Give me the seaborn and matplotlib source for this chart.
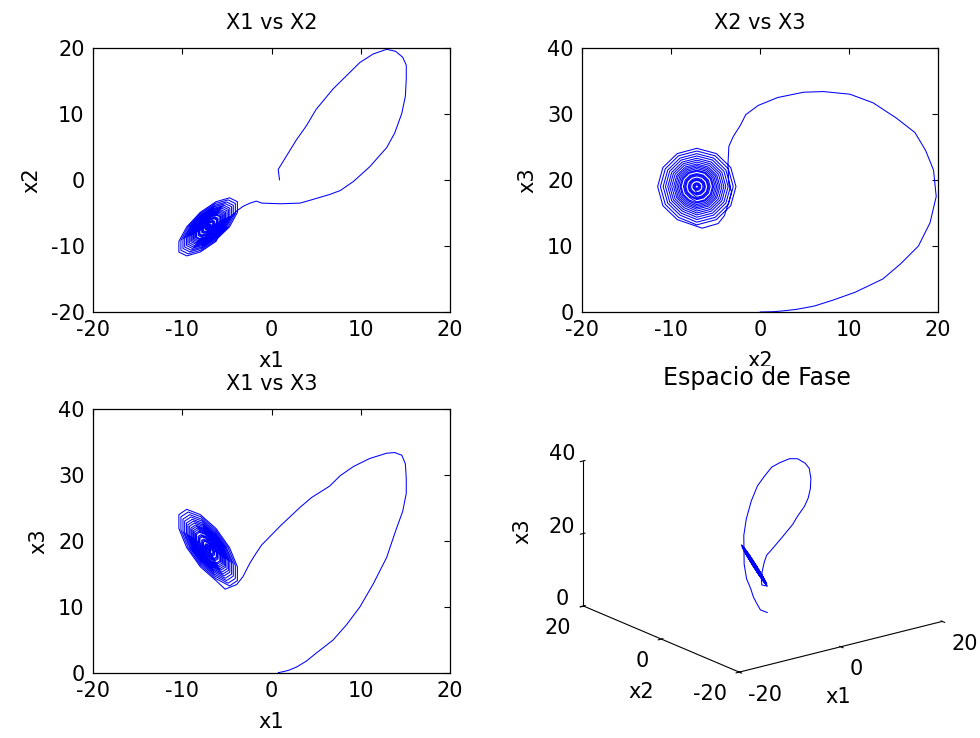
import numpy as np
import pandas as pd
import matplotlib
matplotlib.use("Agg")
import matplotlib.pyplot as plt
import seaborn as sns

# ---------------- data ----------------
# transient part of the trajectory
x1_transient = [0.9, 0.75, 1.3, 1.9, 2.8, 3.9, 5.0, 6.9, 8.4, 9.9, 11.4, 12.9, 13.9, 14.7, 15.1, 15.1,
                15.0, 14.6, 13.8, 12.9, 11.0, 9.2, 7.7, 6.5, 4.5, 3.2, 1.0, -1.1, -1.7, -2.4, -3.2, -3.9, -5.2]
x2_transient = [0.0, 1.6, 2.8, 4.1, 6.1, 8.2, 10.7, 13.8, 15.8, 17.8, 19.1, 19.8, 19.5, 18.6, 17.4, 15.3,
                12.7, 10.1, 7.1, 4.9, 2.0, -0.2, -1.6, -2.2, -3.0, -3.5, -3.6, -3.5, -3.2, -3.5, -4.0, -4.7, -6.5]
x3_transient = [0.0, 0.05, 0.2, 0.4, 0.9, 1.8, 3.0, 5.0, 7.3, 10.0, 13.5, 17.5, 21.5, 24.5, 27.2, 29.4,
                31.7, 33.0, 33.4, 33.3, 32.5, 31.3, 29.9, 28.3, 26.6, 25.1, 22.3, 19.4, 18.2, 16.7, 14.6, 13.4, 12.7]

# spiral around the equilibrium (-7.1, -7.1, 19), one row per loop
x1_spiral = [
    -6.22, -7.98, -9.5, -10.38, -10.38, -9.5, -7.98, -6.22, -4.7, -3.82, -3.82, -4.7,
    -6.28, -7.92, -9.33, -10.15, -10.15, -9.33, -7.92, -6.28, -4.87, -4.05, -4.05, -4.87,
    -6.34, -7.86, -9.16, -9.92, -9.92, -9.16, -7.86, -6.34, -5.04, -4.28, -4.28, -5.04,
    -6.4, -7.8, -9.02, -9.73, -9.73, -9.02, -7.8, -6.4, -5.18, -4.47, -4.47, -5.18,
    -6.45, -7.75, -8.88, -9.53, -9.53, -8.88, -7.75, -6.45, -5.32, -4.67, -4.67, -5.32,
    -6.49, -7.71, -8.76, -9.37, -9.37, -8.76, -7.71, -6.49, -5.44, -4.83, -4.83, -5.44,
    -6.54, -7.66, -8.64, -9.21, -9.21, -8.64, -7.66, -6.54, -5.56, -4.99, -4.99, -5.56,
    -6.58, -7.62, -8.52, -9.04, -9.04, -8.52, -7.62, -6.58, -5.68, -5.16, -5.16, -5.68,
    -6.62, -7.58, -8.42, -8.91, -8.91, -8.42, -7.58, -6.62, -5.78, -5.29, -5.29, -5.78,
    -6.65, -7.55, -8.32, -8.77, -8.77, -8.32, -7.55, -6.65, -5.88, -5.43, -5.43, -5.88,
    -6.69, -7.51, -8.23, -8.65, -8.65, -8.23, -7.51, -6.69, -5.97, -5.55, -5.55, -5.97,
    -6.72, -7.48, -8.13, -8.51, -8.51, -8.13, -7.48, -6.72, -6.07, -5.69, -5.69, -6.07,
    -6.75, -7.45, -8.06, -8.41, -8.41, -8.06, -7.45, -6.75, -6.14, -5.79, -5.79, -6.14,
    -6.8, -7.4, -7.92, -8.22, -8.22, -7.92, -7.4, -6.8, -6.28, -5.98, -5.98, -6.28,
    -6.83, -7.37, -7.84, -8.11, -8.11, -7.84, -7.37, -6.83, -6.36, -6.09, -6.09, -6.36,
    -6.85, -7.35, -7.77, -8.02, -8.02, -7.77, -7.35, -6.85, -6.43, -6.18, -6.18, -6.43,
    -6.91, -7.29, -7.63, -7.82, -7.82, -7.63, -7.29, -6.91, -6.57, -6.38, -6.38, -6.57,
    -6.93, -7.27, -7.56, -7.73, -7.73, -7.56, -7.27, -6.93, -6.64, -6.47, -6.47, -6.64,
    -6.96, -7.24, -7.48, -7.62, -7.62, -7.48, -7.24, -6.96, -6.72, -6.58, -6.58, -6.72,
    -7.01, -7.19, -7.34, -7.43, -7.43, -7.34, -7.19, -7.01, -6.86, -6.77, -6.77, -6.86,
    -7.04, -7.16, -7.27, -7.33, -7.33, -7.27, -7.16, -7.04, -6.93, -6.87, -6.87, -6.93,
    -7.06, -7.14, -7.2, -7.24, -7.24, -7.2, -7.14, -7.06, -7.0, -6.96, -6.96, -7.0,
]
x2_spiral = [
    -9.3, -10.91, -11.5, -10.91, -9.3, -7.1, -4.9, -3.29, -2.7, -3.29, -4.9, -7.1,
    -9.15, -10.64, -11.19, -10.64, -9.15, -7.1, -5.05, -3.56, -3.01, -3.56, -5.05, -7.1,
    -8.99, -10.37, -10.88, -10.37, -8.99, -7.1, -5.21, -3.83, -3.32, -3.83, -5.21, -7.1,
    -8.86, -10.15, -10.62, -10.15, -8.86, -7.1, -5.34, -4.05, -3.58, -4.05, -5.34, -7.1,
    -8.73, -9.92, -10.36, -9.92, -8.73, -7.1, -5.47, -4.28, -3.84, -4.28, -5.47, -7.1,
    -8.62, -9.73, -10.14, -9.73, -8.62, -7.1, -5.58, -4.47, -4.06, -4.47, -5.58, -7.1,
    -8.51, -9.54, -9.92, -9.54, -8.51, -7.1, -5.69, -4.66, -4.28, -4.66, -5.69, -7.1,
    -8.4, -9.35, -9.7, -9.35, -8.4, -7.1, -5.8, -4.85, -4.5, -4.85, -5.8, -7.1,
    -8.31, -9.2, -9.52, -9.2, -8.31, -7.1, -5.89, -5.0, -4.68, -5.0, -5.89, -7.1,
    -8.22, -9.04, -9.34, -9.04, -8.22, -7.1, -5.98, -5.16, -4.86, -5.16, -5.98, -7.1,
    -8.13, -8.89, -9.17, -8.89, -8.13, -7.1, -6.07, -5.31, -5.03, -5.31, -6.07, -7.1,
    -8.05, -8.74, -8.99, -8.74, -8.05, -7.1, -6.15, -5.46, -5.21, -5.46, -6.15, -7.1,
    -7.98, -8.62, -8.86, -8.62, -7.98, -7.1, -6.22, -5.58, -5.34, -5.58, -6.22, -7.1,
    -7.85, -8.4, -8.6, -8.4, -7.85, -7.1, -6.35, -5.8, -5.6, -5.8, -6.35, -7.1,
    -7.78, -8.28, -8.46, -8.28, -7.78, -7.1, -6.42, -5.92, -5.74, -5.92, -6.42, -7.1,
    -7.72, -8.17, -8.33, -8.17, -7.72, -7.1, -6.48, -6.03, -5.87, -6.03, -6.48, -7.1,
    -7.58, -7.94, -8.07, -7.94, -7.58, -7.1, -6.62, -6.26, -6.13, -6.26, -6.62, -7.1,
    -7.52, -7.83, -7.94, -7.83, -7.52, -7.1, -6.68, -6.37, -6.26, -6.37, -6.68, -7.1,
    -7.45, -7.71, -7.8, -7.71, -7.45, -7.1, -6.75, -6.49, -6.4, -6.49, -6.75, -7.1,
    -7.32, -7.48, -7.54, -7.48, -7.32, -7.1, -6.88, -6.72, -6.66, -6.72, -6.88, -7.1,
    -7.25, -7.37, -7.41, -7.37, -7.25, -7.1, -6.95, -6.83, -6.79, -6.83, -6.95, -7.1,
    -7.19, -7.26, -7.28, -7.26, -7.19, -7.1, -7.01, -6.94, -6.92, -6.94, -7.01, -7.1,
]
x3_spiral = [
    14.0, 16.1, 19.0, 21.9, 24.0, 24.8, 24.0, 21.9, 19.0, 16.1, 14.0, 13.2,
    14.33, 16.3, 19.0, 21.7, 23.67, 24.39, 23.67, 21.7, 19.0, 16.3, 14.33, 13.61,
    14.68, 16.5, 19.0, 21.5, 23.32, 23.99, 23.32, 21.5, 19.0, 16.5, 14.68, 14.01,
    14.98, 16.68, 19.0, 21.32, 23.02, 23.64, 23.02, 21.32, 19.0, 16.68, 14.98, 14.36,
    15.28, 16.85, 19.0, 21.15, 22.72, 23.29, 22.72, 21.15, 19.0, 16.85, 15.28, 14.71,
    15.54, 17.0, 19.0, 21.0, 22.46, 23.0, 22.46, 21.0, 19.0, 17.0, 15.54, 15.0,
    15.79, 17.14, 19.0, 20.86, 22.21, 22.71, 22.21, 20.86, 19.0, 17.14, 15.79, 15.29,
    16.04, 17.29, 19.0, 20.71, 21.96, 22.42, 21.96, 20.71, 19.0, 17.29, 16.04, 15.58,
    16.24, 17.4, 19.0, 20.6, 21.76, 22.19, 21.76, 20.6, 19.0, 17.4, 16.24, 15.81,
    16.44, 17.52, 19.0, 20.48, 21.56, 21.96, 21.56, 20.48, 19.0, 17.52, 16.44, 16.04,
    16.64, 17.64, 19.0, 20.36, 21.36, 21.73, 21.36, 20.36, 19.0, 17.64, 16.64, 16.27,
    16.84, 17.75, 19.0, 20.25, 21.16, 21.49, 21.16, 20.25, 19.0, 17.75, 16.84, 16.51,
    16.99, 17.84, 19.0, 20.16, 21.01, 21.32, 21.01, 20.16, 19.0, 17.84, 16.99, 16.68,
    17.29, 18.01, 19.0, 19.99, 20.71, 20.97, 20.71, 19.99, 19.0, 18.01, 17.29, 17.03,
    17.44, 18.1, 19.0, 19.9, 20.56, 20.8, 20.56, 19.9, 19.0, 18.1, 17.44, 17.2,
    17.6, 18.19, 19.0, 19.81, 20.4, 20.62, 20.4, 19.81, 19.0, 18.19, 17.6, 17.38,
    17.89, 18.36, 19.0, 19.64, 20.11, 20.28, 20.11, 19.64, 19.0, 18.36, 17.89, 17.72,
    18.05, 18.45, 19.0, 19.55, 19.95, 20.1, 19.95, 19.55, 19.0, 18.45, 18.05, 17.9,
    18.19, 18.53, 19.0, 19.47, 19.81, 19.93, 19.81, 19.47, 19.0, 18.53, 18.19, 18.07,
    18.5, 18.71, 19.0, 19.29, 19.5, 19.58, 19.5, 19.29, 19.0, 18.71, 18.5, 18.42,
    18.64, 18.8, 19.0, 19.2, 19.36, 19.41, 19.36, 19.2, 19.0, 18.8, 18.64, 18.59,
    18.8, 18.89, 19.0, 19.12, 19.2, 19.23, 19.2, 19.12, 19.0, 18.89, 18.8, 18.77,
]

titles = ["X1 vs X2", "X2 vs X3", "X1 vs X3", "Espacio de Fase"]
ticks_pm20 = [-20, -10, 0, 10, 20]
ticks_0_40 = [0, 10, 20, 30, 40]
ticks3d_xy = [-20, 0, 20]
ticks3d_z = [0, 20, 40]

# ---------------- styling ----------------
sns.set_style("white")
plt.rcParams["font.family"] = ["DejaVu Sans"]
plt.rcParams["axes.unicode_minus"] = False
plt.rcParams["text.color"] = "black"
plt.rcParams["axes.labelcolor"] = "black"
plt.rcParams["xtick.color"] = "black"
plt.rcParams["ytick.color"] = "black"
plt.rcParams["axes.edgecolor"] = "black"
plt.rcParams["axes.linewidth"] = 0.9

df = pd.DataFrame({
    "x1": x1_transient + x1_spiral,
    "x2": x2_transient + x2_spiral,
    "x3": x3_transient + x3_spiral,
})

W, H = 980, 738
fig = plt.figure(figsize=(W / 100, H / 100), dpi=100)


def rect(l, t, r, b):
    return [l / W, 1 - b / H, (r - l) / W, (b - t) / H]


LINE = dict(color="#0000ff", lw=0.75, sort=False, estimator=None)
FS = 15


def style2d(ax, xl, yl, xt, yt, title):
    ax.set_xlim(xt[0], xt[-1])
    ax.set_ylim(yt[0], yt[-1])
    ax.set_xticks(xt)
    ax.set_yticks(yt)
    ax.tick_params(direction="in", length=4, width=0.8, top=True, right=True,
                   labelsize=FS, pad=6, colors="black")
    ax.set_xlabel(xl, fontsize=FS, labelpad=8)
    ax.set_ylabel(yl, fontsize=FS, labelpad=7)
    ax.set_title(title, fontsize=FS, pad=14)
    for s in ax.spines.values():
        s.set_visible(True)
        s.set_color("black")


ax1 = fig.add_axes(rect(93, 48, 450, 312))
sns.lineplot(data=df, x="x1", y="x2", ax=ax1, **LINE)
style2d(ax1, "x1", "x2", ticks_pm20, ticks_pm20, titles[0])

ax2 = fig.add_axes(rect(582, 48, 938, 312))
sns.lineplot(data=df, x="x2", y="x3", ax=ax2, **LINE)
style2d(ax2, "x2", "x3", ticks_pm20, ticks_0_40, titles[1])

ax3 = fig.add_axes(rect(93, 409, 450, 673))
sns.lineplot(data=df, x="x1", y="x3", ax=ax3, **LINE)
style2d(ax3, "x1", "x3", ticks_pm20, ticks_0_40, titles[2])

# 3D phase space
ax4 = fig.add_axes(rect(578, 366, 938, 726), projection="3d")
ax4.plot(df["x1"], df["x2"], df["x3"], color="#0000ff", lw=0.75)
ax4.set_proj_type("ortho")
ax4.view_init(elev=19, azim=-127.5)
ax4.set_box_aspect((1, 1, 0.6), zoom=1.06)
ax4.set_xlim(-20, 20)
ax4.set_ylim(-20, 20)
ax4.set_zlim(0, 40)
ax4.set_xticks(ticks3d_xy, labels=[str(v) for v in ticks3d_xy], ha="left")
ax4.set_yticks(ticks3d_xy, labels=[str(v) for v in ticks3d_xy], ha="right")
ax4.set_zticks(ticks3d_z, labels=[str(v) for v in ticks3d_z], va="baseline")
ax4.grid(False)
for axis in (ax4.xaxis, ax4.yaxis, ax4.zaxis):
    axis.set_pane_color((1, 1, 1, 0))
    axis.line.set_color("black")
    axis.line.set_linewidth(0.8)
ax4.tick_params(labelsize=FS, pad=0)
ax4.zaxis.set_rotate_label(False)
ax4.set_zlabel("x3", fontsize=FS, labelpad=2, rotation=90)
fig.text(838 / W, 1 - 697 / H, "x1", ha="center", va="center", fontsize=FS)
fig.text(641 / W, 1 - 692 / H, "x2", ha="center", va="center", fontsize=FS)
fig.text(757 / W, 1 - 378 / H, titles[3], ha="center", va="center", fontsize=17)

fig.savefig("out.png", dpi=100)
